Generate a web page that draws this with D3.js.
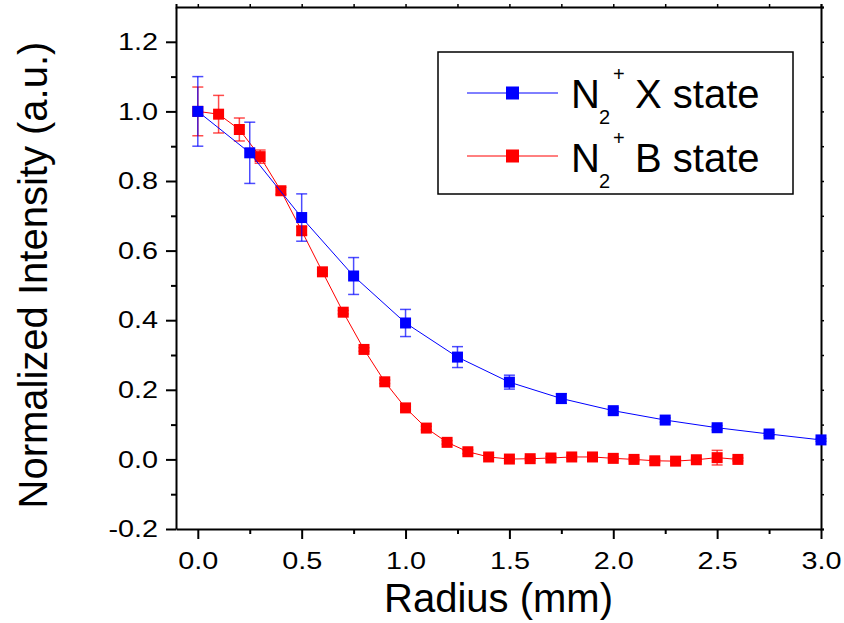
<!DOCTYPE html>
<html>
<head>
<meta charset="utf-8">
<script src="https://cdn.jsdelivr.net/npm/d3@7"></script>
<style>
  body { margin: 0; background: #fff; }
  svg { display: block; font-family: "Liberation Sans", Arial, sans-serif; }
</style>
</head>
<body>
<svg width="844" height="623"></svg>
<script>
// data
const xBlue = [0, 0.25, 0.5, 0.75, 1.0, 1.25, 1.5, 1.75, 2.0, 2.25, 2.5, 2.75, 3.0];
const yBlue = [1.0, 0.881, 0.695, 0.527, 0.392, 0.294, 0.222, 0.175, 0.140, 0.113, 0.091, 0.073, 0.056];
const eBlue = [0.10, 0.088, 0.068, 0.053, 0.039, 0.03, 0.02, 0.014, 0.008, 0.006, 0.006, 0.004, 0.004];

const xRed = [0, 0.1, 0.2, 0.3, 0.4, 0.5, 0.6, 0.7, 0.8, 0.9, 1.0, 1.1, 1.2, 1.3,
              1.4, 1.5, 1.6, 1.7, 1.8, 1.9, 2.0, 2.1, 2.2, 2.3, 2.4, 2.5, 2.6];
const yRed = [1.0, 0.992, 0.948, 0.870, 0.772, 0.657, 0.539, 0.423, 0.316, 0.223, 0.148, 0.090, 0.049, 0.022,
              0.007, 0.001, 0.002, 0.004, 0.007, 0.007, 0.003, 0.000, -0.004, -0.005, -0.001, 0.005, 0.000];
const eRed = [0.07, 0.054, 0.033, 0.019, 0.01, 0.012, 0.006, 0.005, 0.005, 0.005, 0.005, 0.005, 0.005, 0.005,
              0.004, 0.004, 0.004, 0.004, 0.004, 0.004, 0.004, 0.004, 0.004, 0.004, 0.004, 0.021, 0.004];

const xTicks = [0, 0.5, 1.0, 1.5, 2.0, 2.5, 3.0];
const yTicks = [-0.2, 0, 0.2, 0.4, 0.6, 0.8, 1.0, 1.2];

const seriesNames = ["X state", "B state"];

const svg = d3.select('svg');

const plotL = 176, plotR = 821, plotT = 7, plotB = 529;

const x = d3.scaleLinear().domain([-0.105, 3.0]).range([plotL, plotR]);
const y = d3.scaleLinear().domain([-0.2, 1.3]).range([plotB, plotT]);

// plain hyphen for negatives, like the original
const fmt = d => d.toFixed(1);

const minorX = d3.range(0, 3.01, 0.25).filter(v => Math.abs(v * 2 - Math.round(v * 2)) > 1e-6);
const minorY = d3.range(-0.1, 1.3, 0.2);

// mirror axes (top / right)
svg.append('g').attr('transform', `translate(0,${plotT})`)
  .call(d3.axisTop(x).tickValues(d3.range(0, 3.01, 0.25)).tickSize(3).tickFormat(''))
  .call(g => g.select('.domain').attr('stroke-width', 2))
  .call(g => g.selectAll('.tick line').attr('stroke-width', 1.5));

svg.append('g').attr('transform', `translate(${plotR},0)`)
  .call(d3.axisRight(y).tickValues(d3.range(-0.2, 1.31, 0.1)).tickSize(3).tickFormat(''))
  .call(g => g.select('.domain').attr('stroke-width', 2))
  .call(g => g.selectAll('.tick line').attr('stroke-width', 1.5));

// minor ticks
svg.append('g').attr('transform', `translate(0,${plotB})`)
  .call(d3.axisBottom(x).tickValues(minorX).tickSize(5).tickFormat(''))
  .call(g => g.select('.domain').remove())
  .call(g => g.selectAll('.tick line').attr('stroke-width', 2));

svg.append('g').attr('transform', `translate(${plotL},0)`)
  .call(d3.axisLeft(y).tickValues(minorY).tickSize(5).tickFormat(''))
  .call(g => g.select('.domain').remove())
  .call(g => g.selectAll('.tick line').attr('stroke-width', 2));

// main axes
svg.append('g').attr('transform', `translate(0,${plotB})`)
  .call(d3.axisBottom(x).tickValues(xTicks).tickSize(10).tickSizeOuter(0).tickFormat(fmt))
  .call(g => g.select('.domain').attr('stroke-width', 2))
  .call(g => g.selectAll('.tick line').attr('stroke-width', 2))
  .call(g => g.selectAll('.tick text')
    .attr('font-size', 24).attr('fill', '#000')
    .attr('y', 23).attr('transform', 'scale(1.2,1)'));

svg.append('g').attr('transform', `translate(${plotL},0)`)
  .call(d3.axisLeft(y).tickValues(yTicks).tickSize(10).tickSizeOuter(0).tickFormat(fmt))
  .call(g => g.select('.domain').attr('stroke-width', 2))
  .call(g => g.selectAll('.tick line').attr('stroke-width', 2))
  .call(g => g.selectAll('.tick text')
    .attr('font-size', 24).attr('fill', '#000')
    .attr('x', -15).attr('transform', 'scale(1.2,1)'));

// axis titles
svg.append('text')
  .attr('x', (plotL + plotR) / 2).attr('y', 612)
  .attr('text-anchor', 'middle').attr('font-size', 40)
  .text('Radius (mm)');

svg.append('text')
  .attr('transform', `translate(47,${(plotT + plotB) / 2 + 7}) rotate(-90)`)
  .attr('text-anchor', 'middle').attr('font-size', 40)
  .text('Normalized Intensity (a.u.)');

// series
const drawSeries = (xs, ys, es, color) => {
  const pts = xs.map((v, i) => ({ x: v, y: ys[i], e: es[i] }));
  const g = svg.append('g');

  g.append('path')
    .datum(pts)
    .attr('fill', 'none')
    .attr('stroke', color)
    .attr('stroke-width', 1)
    .attr('d', d3.line().x(d => x(d.x)).y(d => y(d.y)));

  const eb = g.selectAll('.eb').data(pts).enter().append('g')
    .attr('stroke', color).attr('stroke-opacity', 0.7).attr('stroke-width', 1.5);
  eb.append('line')
    .attr('x1', d => x(d.x)).attr('x2', d => x(d.x))
    .attr('y1', d => y(d.y + d.e)).attr('y2', d => y(d.y - d.e));
  eb.append('line')
    .attr('x1', d => x(d.x) - 5.5).attr('x2', d => x(d.x) + 5.5)
    .attr('y1', d => y(d.y + d.e)).attr('y2', d => y(d.y + d.e));
  eb.append('line')
    .attr('x1', d => x(d.x) - 5.5).attr('x2', d => x(d.x) + 5.5)
    .attr('y1', d => y(d.y - d.e)).attr('y2', d => y(d.y - d.e));

  g.selectAll('rect').data(pts).enter().append('rect')
    .attr('x', d => x(d.x) - 5.5).attr('y', d => y(d.y) - 5.5)
    .attr('width', 11).attr('height', 11)
    .attr('fill', color);
};

drawSeries(xRed, yRed, eRed, '#ff0000');
drawSeries(xBlue, yBlue, eBlue, '#0000ff');

// legend
const legend = svg.append('g');
legend.append('rect')
  .attr('x', 438).attr('y', 52).attr('width', 355).attr('height', 142)
  .attr('fill', '#fff').attr('stroke', '#000').attr('stroke-width', 1.5);

const legendColors = ['#0000ff', '#ff0000'];
seriesNames.forEach((name, i) => {
  const cy = 93 + i * 63;
  legend.append('line')
    .attr('x1', 467).attr('x2', 558).attr('y1', cy).attr('y2', cy)
    .attr('stroke', legendColors[i]).attr('stroke-width', 1);
  legend.append('rect')
    .attr('x', 506).attr('y', cy - 6.5).attr('width', 13).attr('height', 13)
    .attr('fill', legendColors[i]);
  const base = 108 + i * 63.5;
  legend.append('text').attr('x', 571).attr('y', base).attr('font-size', 40).text('N');
  legend.append('text').attr('x', 599).attr('y', base + 16).attr('font-size', 20).text('2');
  legend.append('text').attr('x', 613).attr('y', base - 27).attr('font-size', 20).text('+');
  legend.append('text').attr('x', 635).attr('y', base).attr('font-size', 40).text(name);
});
</script>
</body>
</html>
